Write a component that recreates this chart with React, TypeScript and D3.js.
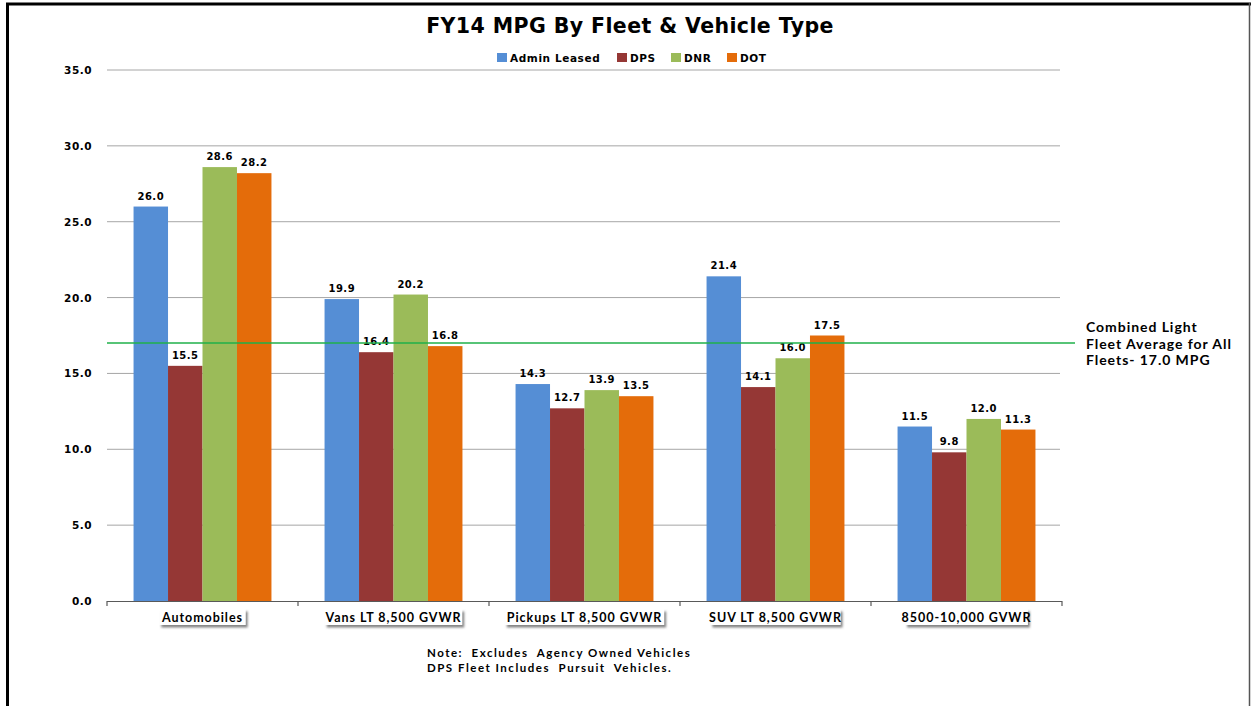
import React from "react";
import * as d3 from "d3";

const categories = ["Automobiles", "Vans LT 8,500 GVWR", "Pickups LT 8,500 GVWR", "SUV LT 8,500 GVWR", "8500-10,000 GVWR"];
const seriesNames = ["Admin Leased", "DPS", "DNR", "DOT"];
const adminLeased = [26.0, 19.9, 14.3, 21.4, 11.5];
const dps = [15.5, 16.4, 12.7, 14.1, 9.8];
const dnr = [28.6, 20.2, 13.9, 16.0, 12.0];
const dot = [28.2, 16.8, 13.5, 17.5, 11.3];
const yTicks = [0, 5, 10, 15, 20, 25, 30, 35];
const fleetAverage = 17.0;
const colors = ["#558ED5", "#953735", "#9BBB59", "#E46C0A"];

const W = 1251;
const H = 706;
const plotLeft = 107;
const plotRight = 1062;
const plotTop = 70;
const plotBottom = 601;

export default function App() {
  const seriesValues = [adminLeased, dps, dnr, dot];
  const x0 = d3.scaleBand<string>().domain(categories).range([plotLeft, plotRight]).padding(0);
  const bw = x0.bandwidth();
  const x1 = d3.scaleBand<string>().domain(seriesNames).range([bw * 0.139, bw * 0.861]).padding(0);
  const y = d3.scaleLinear().domain([0, 35]).range([plotBottom, plotTop]);

  const boundaries = [...categories.map((c) => x0(c) as number), plotRight];

  const legendItems = [
    { name: "Admin Leased", x: 497 },
    { name: "DPS", x: 617 },
    { name: "DNR", x: 671 },
    { name: "DOT", x: 727 },
  ];

  const verdana = "'DejaVu Sans', Verdana, sans-serif";
  const calibri = "Lato, 'Open Sans', sans-serif";

  return (
    <svg width={W} height={H} style={{ position: "absolute", left: 0, top: 0, background: "#fff" }}>
      <defs>
        <filter id="shadow" x="-10%" y="-30%" width="130%" height="180%">
          <feDropShadow dx="2" dy="2.5" stdDeviation="1.2" floodColor="#666" floodOpacity="0.8" />
        </filter>
      </defs>
      <rect x={0} y={0} width={W} height={H} fill="#fff" />
      {/* border */}
      <line x1={6} x2={W} y1={4} y2={4} stroke="#000" strokeWidth={3} />
      <line x1={7.5} x2={7.5} y1={3} y2={H} stroke="#000" strokeWidth={3} />
      <line x1={1249.5} x2={1249.5} y1={3} y2={H} stroke="#555" strokeWidth={1.5} />

      {/* title */}
      <text x={630} y={33} textAnchor="middle" fontFamily={verdana} fontWeight="bold" fontSize={20.5} letterSpacing={0.4} fill="#000">
        FY14 MPG By Fleet &amp; Vehicle Type
      </text>

      {/* legend */}
      {legendItems.map((it, i) => (
        <g key={it.name}>
          <rect x={it.x} y={53} width={10} height={9} fill={colors[i]} />
          <text x={it.x + 13} y={62} fontFamily={verdana} fontWeight="bold" fontSize={10.5} letterSpacing={0.6} fill="#000">
            {it.name}
          </text>
        </g>
      ))}

      {/* gridlines */}
      {yTicks.filter((t) => t > 0).map((t) => (
        <line key={t} x1={plotLeft} x2={1060} y1={y(t)} y2={y(t)} stroke="#a6a6a6" strokeWidth={1} />
      ))}

      {/* y tick labels */}
      {yTicks.map((t) => (
        <text key={t} x={92} y={y(t) + 4} textAnchor="end" fontFamily={verdana} fontWeight="bold" fontSize={10.5} letterSpacing={0.5} fill="#000">
          {t.toFixed(1)}
        </text>
      ))}

      {/* bars */}
      {categories.map((c, ci) => (
        <g key={c} transform={`translate(${x0(c)},0)`}>
          {seriesNames.map((s, si) => {
            const v = seriesValues[si][ci];
            const bx = x1(s) as number;
            return (
              <g key={s}>
                <rect x={bx} y={y(v)} width={x1.bandwidth()} height={plotBottom - y(v)} fill={colors[si]} />
                <text x={bx + x1.bandwidth() / 2} y={y(v) - 7} textAnchor="middle" fontFamily={verdana} fontWeight="bold" fontSize={10} letterSpacing={0.5} fill="#000">
                  {v.toFixed(1)}
                </text>
              </g>
            );
          })}
        </g>
      ))}

      {/* axis */}
      <line x1={plotLeft} x2={plotRight} y1={plotBottom + 0.5} y2={plotBottom + 0.5} stroke="#595959" strokeWidth={1.2} />
      {boundaries.map((bx, i) => (
        <line key={i} x1={bx} x2={bx} y1={plotBottom} y2={plotBottom + 5} stroke="#595959" strokeWidth={1.2} />
      ))}

      {/* category labels */}
      {categories.map((c) => {
        const cx = (x0(c) as number) + bw / 2;
        const approxW = c.length * 7.3 + 6;
        return (
          <g key={c}>
            <rect x={cx - approxW / 2} y={609} width={approxW} height={16} fill="#fff" filter="url(#shadow)" />
            <text x={cx} y={621.5} textAnchor="middle" fontFamily={calibri} fontWeight="bold" fontSize={12.5} letterSpacing={0.95} fill="#000">
              {c}
            </text>
          </g>
        );
      })}

      {/* average line */}
      <line x1={plotLeft} x2={1075} y1={y(fleetAverage)} y2={y(fleetAverage)} stroke="#1fb04a" strokeWidth={1.5} />
      {["Combined Light", "Fleet Average for All", "Fleets- 17.0 MPG"].map((t, i) => (
        <text key={i} x={1086} y={332 + i * 16.5} fontFamily={calibri} fontWeight="bold" fontSize={14} letterSpacing={0.95} fill="#000">
          {t}
        </text>
      ))}

      {/* note */}
      {["Note:  Excludes  Agency Owned Vehicles", "DPS Fleet Includes  Pursuit  Vehicles."].map((t, i) => (
        <text key={i} x={427} y={657 + i * 15} fontFamily={calibri} fontWeight="bold" fontSize={11.5} letterSpacing={1.5} fill="#000" style={{ whiteSpace: "pre" }}>
          {t}
        </text>
      ))}
    </svg>
  );
}
